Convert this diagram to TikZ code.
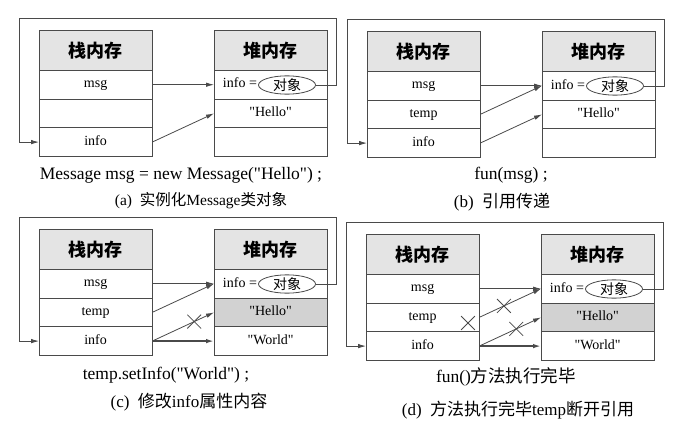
\documentclass[tikz,border=0pt]{standalone}
\usepackage{fontspec}
\setmainfont{Liberation Serif}[Ligatures=TeXOff]
\newfontfamily\cjk{Noto Sans CJK SC}
\usetikzlibrary{shapes.geometric,shapes.misc,arrows.meta}
\definecolor{lc}{HTML}{4A4A4A}
\definecolor{hdrgray}{HTML}{E4E4E4}
\definecolor{cellgray}{HTML}{D2D2D2}
\newcommand\rowfont{\fontsize{14}{16}\selectfont}
\newcommand\hdrfont{\fontsize{18}{20}\selectfont\cjk\bfseries}
\newcommand\capfont{\fontsize{17.5}{19}\selectfont}
\newcommand\subfont{\fontsize{17}{19}\selectfont}
\tikzset{
 box/.style={draw=lc, line width=0.7pt, inner sep=0pt, minimum width=112.5pt, anchor=north west, font=\rowfont},
 hdr/.style={box, fill=hdrgray, minimum height=40pt, font=\hdrfont},
 cell/.style={box, minimum height=28.7pt, text height=9pt, text depth=3pt},
 shaded/.style={cell, fill=cellgray},
 ref/.style={draw=lc, line width=0.8pt, -{Latex[length=8pt,width=4.5pt]}},
 newref/.style={ref, line width=1.5pt},
 obj/.style={draw=lc, ellipse, line width=0.8pt, minimum width=57pt, minimum height=15pt, inner sep=0pt, font=\rowfont\cjk},
 xmark/.style={cross out, draw=lc, line width=0.8pt, minimum size=13pt, inner sep=0pt},
 captext/.style={font=\capfont, inner sep=0pt},
 subcap/.style={font=\subfont, inner sep=0pt}
}
\newcommand\mempanel[6]{%
\begin{scope}[shift={(#2,#3)}]
\node[hdr] (#1-sh) at (0,0) {栈内存};
\node[cell] (#1-s1) at (0,40) {msg};
\node[cell] (#1-s2) at (0,68.7) {#4};
\node[cell] (#1-s3) at (0,97.4) {info};
\node[hdr] (#1-hh) at (175,0) {堆内存};
\node[cell] (#1-h1) at (175,40) {};
\node[#6] (#1-h2) at (175,68.7) {"Hello"};
\node[cell] (#1-h3) at (175,97.4) {#5};
\node[obj] (#1-obj) at (248,55) {对象};
\node[anchor=east, inner sep=1pt, font=\rowfont, text height=9pt, text depth=3pt] (#1-info) at (#1-obj.west) {info =};
\coordinate (#1-ne) at (297,-12);
\coordinate (#1-nw) at (-20,-12);
\draw[ref] (#1-obj.east) -| (#1-ne) -- (#1-nw) |- (#1-s3.west);
\end{scope}}
\begin{document}
\begin{tikzpicture}[x=1pt,y=-1pt]
\useasboundingbox (0,0) rectangle (683,428);
% (a)
\mempanel{a}{39}{30}{}{}{cell}
\draw[ref] (a-s1.east) -- (a-h1.west);
\draw[ref] (a-s3.east) -- (a-h2.west);
\node[captext] (a-c1) at (181,175) {Message msg = new Message("Hello") ;};
\node[subcap, font=\fontsize{15.5}{18}\selectfont] (a-c2) at (201,201) {(a)\enspace{\cjk 实例化}Message{\cjk 类对象}};
% (b)
\mempanel{b}{367}{31}{temp}{}{cell}
\draw[ref] (b-s1.east) -- (b-h1.west);
\draw[ref] (b-s2.east) -- (b-h1.west);
\draw[ref] (b-s3.east) -- (b-h2.west);
\node[captext] (b-c1) at (511,175) {fun(msg) ;};
\node[subcap] (b-c2) at (502,202) {(b)\enspace{\cjk 引用传递}};
% (c)
\mempanel{c}{39}{229}{temp}{"World"}{shaded}
\draw[ref] (c-s1.east) -- (c-h1.west);
\draw[ref] (c-s2.east) -- (c-h1.west);
\draw[ref] (c-s3.east) -- (c-h2.west) node[xmark, pos=0.68] (c-x) {};
\draw[newref] (c-s3.east) -- (c-h3.west);
\node[captext] (c-c1) at (166,375) {temp.setInfo("World") ;};
\node[subcap] (c-c2) at (189,402) {(c)\enspace{\cjk 修改}info{\cjk 属性内容}};
% (d)
\mempanel{d}{366}{234}{temp}{"World"}{shaded}
\draw[ref] (d-s1.east) -- (d-h1.west);
\draw[ref] (d-s2.east) -- (d-h1.west) node[xmark, pos=0.4] (d-x2) {};
\node[xmark] (d-x1) at (468,323) {};
\draw[ref] (d-s3.east) -- (d-h2.west) node[xmark, pos=0.6] (d-x3) {};
\draw[newref] (d-s3.east) -- (d-h3.west);
\node[captext] (d-c1) at (506,377) {fun(){\cjk 方法执行完毕}};
\node[subcap] (d-c2) at (518,410) {(d)\enspace{\cjk 方法执行完毕}temp{\cjk 断开引用}};
\end{tikzpicture}
\end{document}
